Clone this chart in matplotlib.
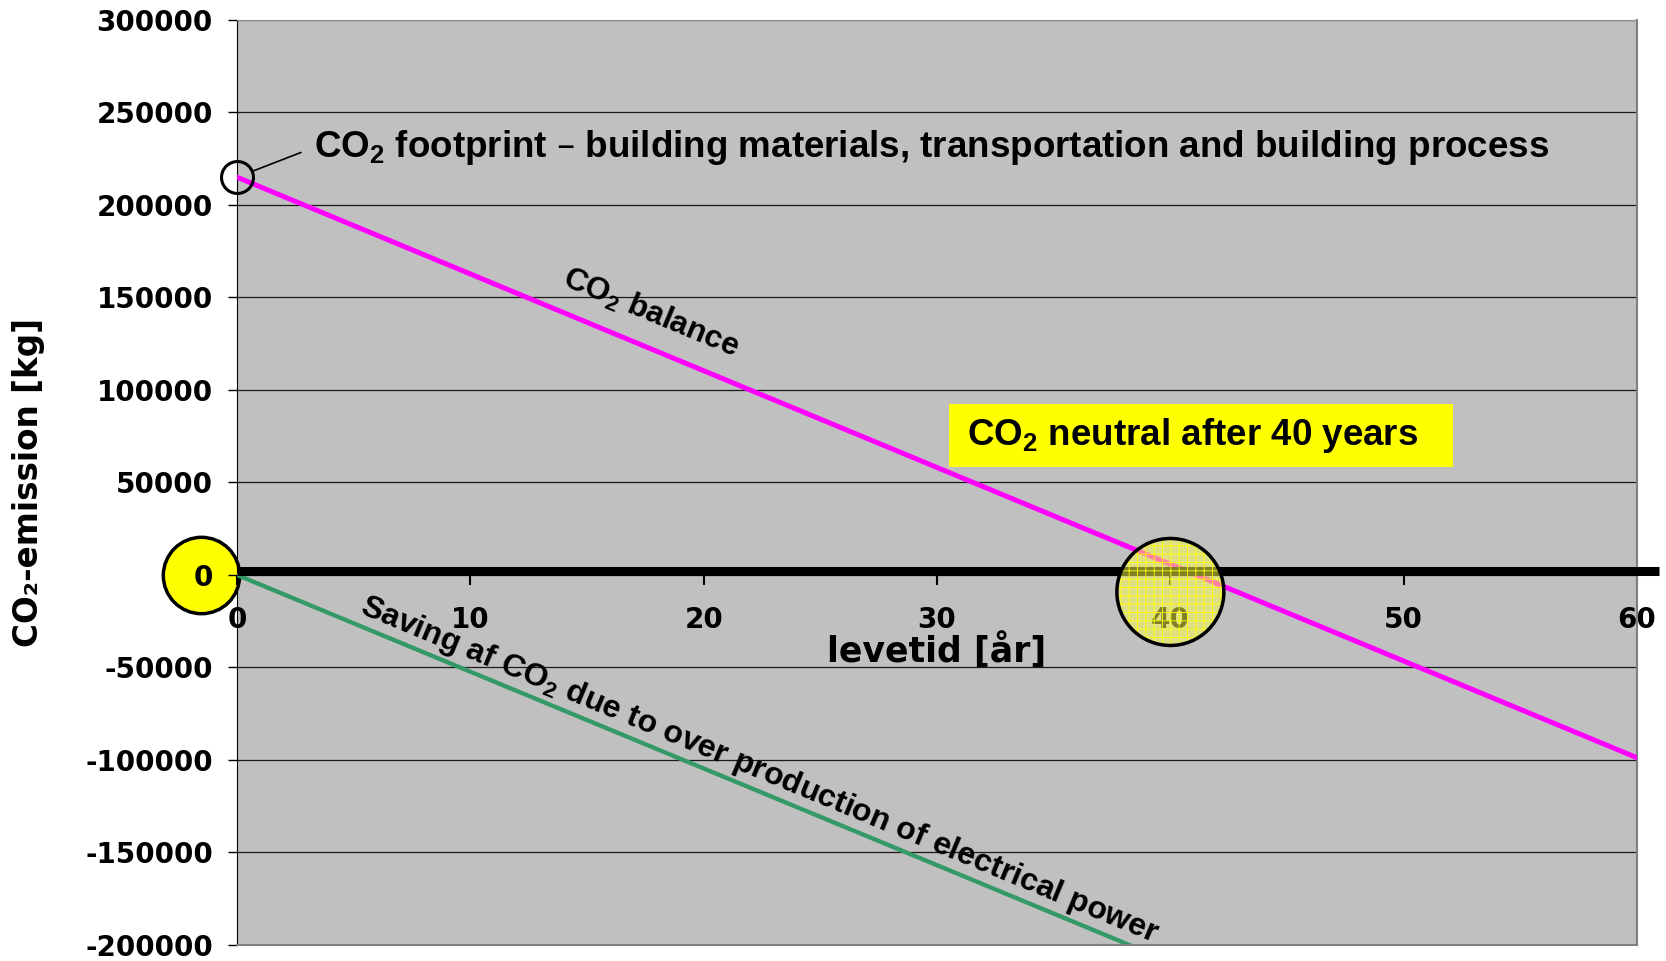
import numpy as np
import matplotlib
matplotlib.use("Agg")
import matplotlib.pyplot as plt
import matplotlib.transforms as mtransforms
from matplotlib.patches import Rectangle, Ellipse

# levetid i år og CO2 i kg
years = [0, 60]
balance = [215000, -98800]      # CO2 balance over the lifetime
saving = [0, -313800]           # saving from surplus electrical power
x_ticks = [0, 10, 20, 30, 40, 50, 60]
y_ticks = list(range(-200000, 300001, 50000))
neutral_year = 40

plt.rcParams['mathtext.default'] = 'regular'
plt.rcParams['axes.unicode_minus'] = False
plt.rcParams['hatch.linewidth'] = 0.6

ARIAL = 'Liberation Sans'

fig = plt.figure(figsize=(16.66, 9.61), dpi=100)
ax = fig.add_axes([0.1423, 0.0167, 0.8403, 0.9625])
ax.set_facecolor('#c0c0c0')
ax.set_xlim(0, 60)
ax.set_ylim(-200000, 300000)
ax.set_xticks(x_ticks)
ax.set_yticks(y_ticks)
ax.yaxis.grid(True, color='#1a1a1a', lw=0.9)

ax.spines['top'].set_color('#909090')
ax.spines['right'].set_color('#808080')
ax.spines['right'].set_linewidth(1.5)
ax.spines['left'].set_color('black')
ax.spines['bottom'].set_position(('data', 0))
ax.spines['bottom'].set_visible(False)
# bottom border of the plot area
ax.plot([0, 1], [0, 0], transform=ax.transAxes, color='#808080', lw=1.5,
        clip_on=False, zorder=4)

ax.tick_params(axis='x', direction='out', length=7, width=1.5, pad=15,
               labelsize=20)
ax.tick_params(axis='y', direction='out', length=6.5, width=1, pad=11,
               labelsize=20)
for lbl in ax.get_xticklabels() + ax.get_yticklabels():
    lbl.set_fontweight('bold')

ax.set_xlabel('levetid [år]', fontsize=25, fontweight='bold', va='top')
ax.xaxis.set_label_coords(0.5, 0.338)
ax.set_ylabel('CO₂-emission [kg]', fontsize=23.5, fontweight='bold')
ax.yaxis.set_label_coords(-0.137, 0.5)

ax.plot(years, balance, color='#ff00ff', lw=3.6, zorder=3)
ax.plot(years, saving, color='#339966', lw=3.1, zorder=3)

# heavy x axis line, running past the plot area
up = mtransforms.offset_copy(ax.get_yaxis_transform(), fig=fig, x=0, y=4,
                             units='dots')
ax.plot([0, 1.016], [0, 0], transform=up, color='black', lw=6.5,
        solid_capstyle='butt', clip_on=False, zorder=4)

# circle on the starting footprint
ax.plot(years[0], balance[0], 'o', ms=23, mfc='none', mec='black', mew=2.2,
        clip_on=False, zorder=5)

# yellow circle around the zero tick
ax.plot([-0.026], [0], transform=ax.get_yaxis_transform(), marker='o', ms=55,
        mfc='yellow', mec='black', mew=2.5, clip_on=False, zorder=1)

# neutral point: see-through yellow disc with a fine yellow grid
px = ax.transData.transform([(0, 0), (1, 1)])
w = 2 * 53.5 / (px[1, 0] - px[0, 0])
h = 2 * 53.5 / (px[1, 1] - px[0, 1])
down = mtransforms.offset_copy(ax.transData, fig=fig, x=0, y=-17, units='dots')
for kw in (dict(facecolor=(1, 1, 0.3, 0.5), edgecolor='none', zorder=6),
           dict(facecolor='none', edgecolor='yellow', lw=0, hatch='++', zorder=6.1),
           dict(facecolor='none', edgecolor='black', lw=2.5, zorder=6.2)):
    ax.add_patch(Ellipse((neutral_year, 0), w, h, transform=down, **kw))


def line_angle(xs, ys):
    p = ax.transData.transform(np.column_stack([xs, ys]))
    return np.degrees(np.arctan2(p[1, 1] - p[0, 1], p[1, 0] - p[0, 0]))


ax.annotate('CO$_2$ footprint – building materials, transportation and building process',
            xy=(years[0], balance[0]), xytext=(3.3, 226000), textcoords='data',
            fontsize=26.5, fontweight='bold', family=ARIAL, va='baseline', ha='left',
            arrowprops=dict(arrowstyle='-', color='black', lw=1.2,
                            relpos=(0, 0.5), shrinkA=8, shrinkB=12),
            zorder=7)

ax.text(17.74, 141600, 'CO$_2$ balance', rotation=line_angle(years, balance),
        rotation_mode='anchor', ha='center', va='center', fontsize=22.7,
        fontweight='bold', family=ARIAL, zorder=7)

ax.text(22.4, -105500, 'Saving af CO$_2$ due to over production of electrical power',
        rotation=line_angle(years, saving), rotation_mode='anchor', ha='center',
        va='center', fontsize=23, fontweight='bold', family=ARIAL, zorder=7)

ax.add_patch(Rectangle((30.5, 58400), 21.6, 34100, facecolor='yellow',
                       edgecolor='none', zorder=5))
ax.text(31.3, 75400, 'CO$_2$ neutral after 40 years', fontsize=26.5,
        fontweight='bold', family=ARIAL, ha='left', va='center', zorder=7)

fig.savefig('out.png', dpi=100)
